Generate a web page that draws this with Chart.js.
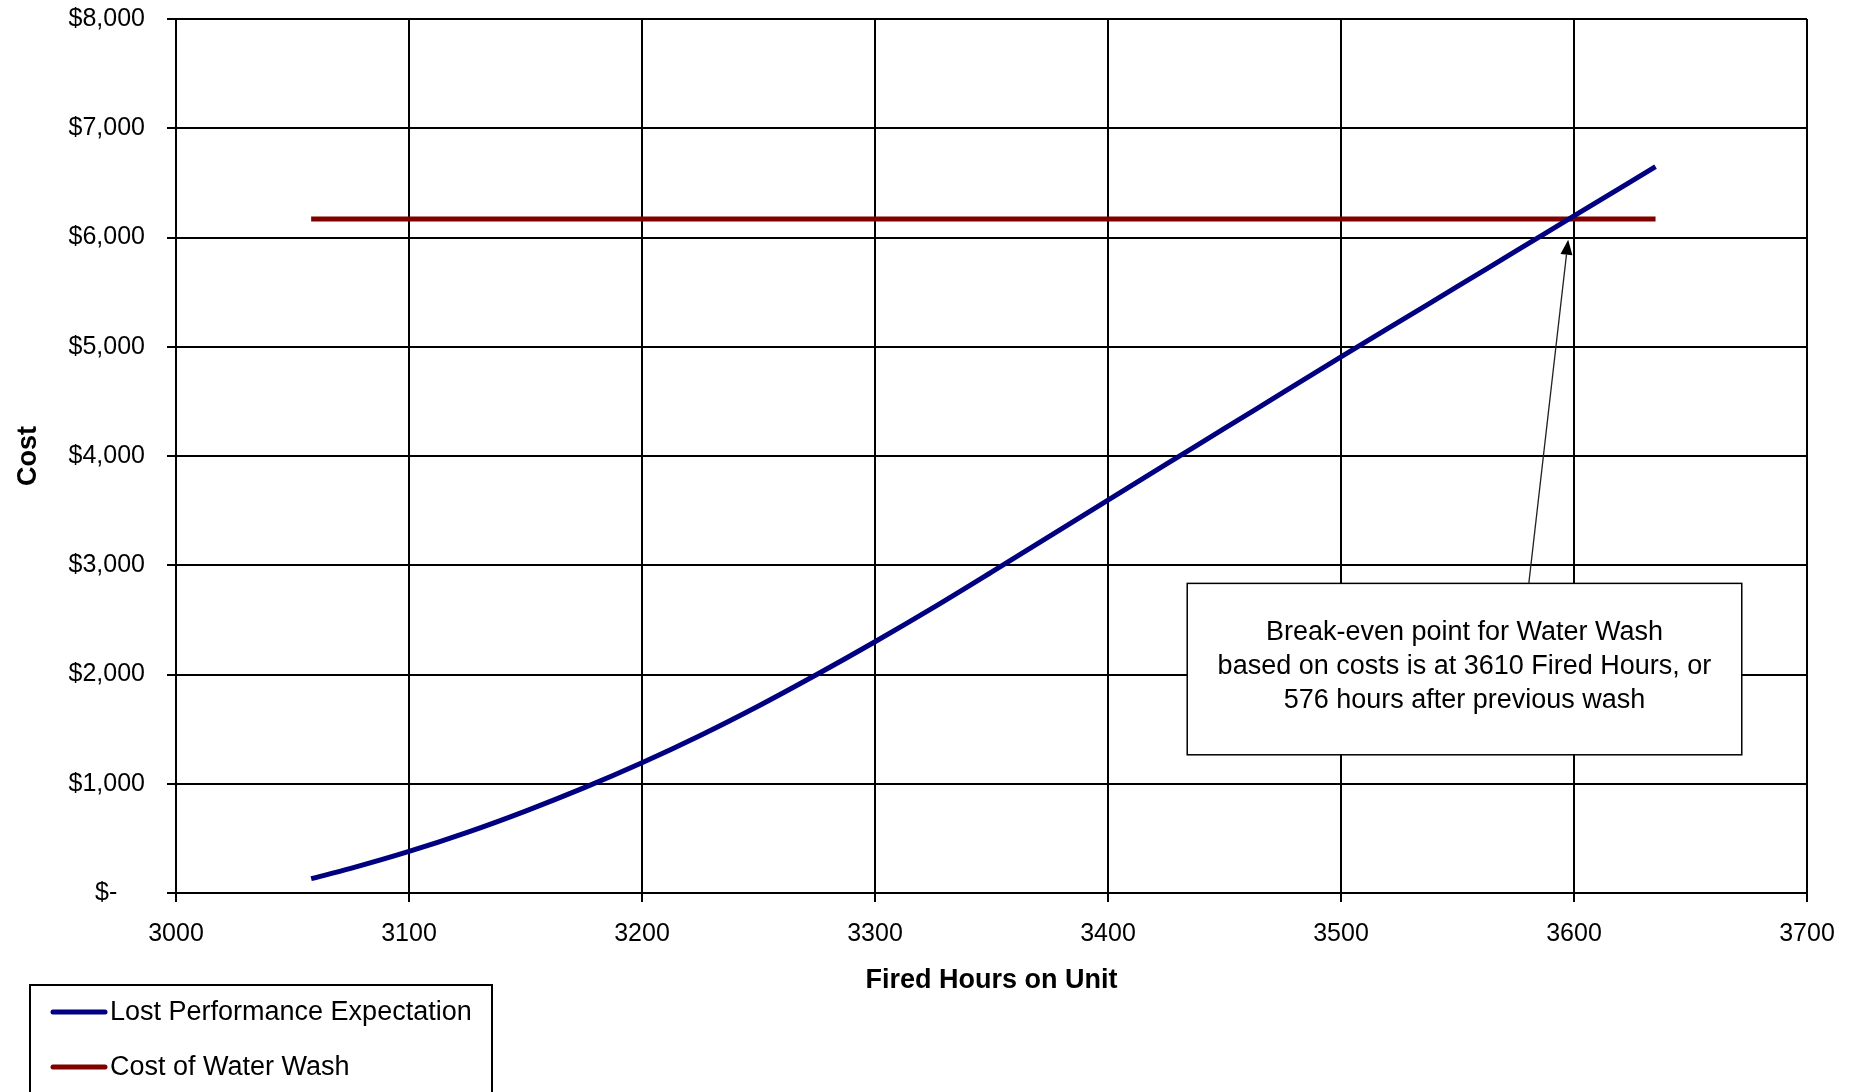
<!DOCTYPE html>
<html>
<head>
<meta charset="utf-8">
<title>Water Wash Break-even</title>
<script src="https://cdn.jsdelivr.net/npm/chart.js@4.4.1/dist/chart.umd.min.js"></script>
<style>
  html, body { margin: 0; padding: 0; background: #fff; }
  #grafico { display: block; }
</style>
</head>
<body>
<canvas id="grafico" width="1852" height="1092"></canvas>
<script>
// Datos
const firedHours = [3058, 3075, 3100, 3125, 3150, 3175, 3200, 3225, 3250, 3275, 3300, 3325,
                    3350, 3375, 3400, 3425, 3450, 3475, 3500, 3525, 3550, 3575, 3600, 3635];
const lostPerformance = [131, 225, 380, 555, 750, 962, 1192, 1442, 1712, 2000, 2300, 2612,
                         2937, 3267, 3597, 3925, 4252, 4580, 4907, 5230, 5552, 5875, 6197, 6649];
const washHours = [3058, 3635];
const washCost = [6170, 6170];

const xTicks = [3000, 3100, 3200, 3300, 3400, 3500, 3600, 3700];
const xTickLabels = ['3000', '3100', '3200', '3300', '3400', '3500', '3600', '3700'];
const yTicks = [0, 1000, 2000, 3000, 4000, 5000, 6000, 7000, 8000];
const yTickLabels = ['$-    ', '$1,000', '$2,000', '$3,000', '$4,000', '$5,000', '$6,000', '$7,000', '$8,000'];

const seriesNames = ['Lost Performance Expectation', 'Cost of Water Wash'];
const noteLines = [
    'Break-even point for Water Wash',
    'based on costs is at 3610 Fired Hours, or',
    '576 hours after previous wash'
];
const breakEven = { x: 3597.5, y: 5980 };

const FONT = '"Liberation Sans", Arial, sans-serif';
const NAVY = '#000080';
const MAROON = '#800000';

// Cuadro de texto con flecha hacia el punto de equilibrio
const notePlugin = {
    id: 'note',
    afterDatasetsDraw(chart) {
        const { ctx, scales: { x, y } } = chart;
        const left = x.getPixelForValue(3434);
        const right = x.getPixelForValue(3672);
        const top = y.getPixelForValue(2834);
        const bottom = y.getPixelForValue(1265);

        ctx.save();
        ctx.fillStyle = '#fff';
        ctx.fillRect(left, top, right - left, bottom - top);
        ctx.strokeStyle = '#000';
        ctx.lineWidth = 1.5;
        ctx.strokeRect(left, top, right - left, bottom - top);

        ctx.font = '27px ' + FONT;
        ctx.fillStyle = '#000';
        ctx.textAlign = 'center';
        ctx.textBaseline = 'middle';
        noteLines.forEach((t, i) => ctx.fillText(t, (left + right) / 2, top + 49 + i * 34));

        // flecha
        const sx = x.getPixelForValue(3580.6);
        const sy = top;
        const tx = x.getPixelForValue(breakEven.x);
        const ty = y.getPixelForValue(breakEven.y);
        const ang = Math.atan2(ty - sy, tx - sx);
        const head = 15, half = 6;
        const bx = tx - head * Math.cos(ang), by = ty - head * Math.sin(ang);
        ctx.strokeStyle = '#222';
        ctx.lineWidth = 1.3;
        ctx.beginPath();
        ctx.moveTo(sx, sy);
        ctx.lineTo(bx, by);
        ctx.stroke();
        ctx.fillStyle = '#000';
        ctx.beginPath();
        ctx.moveTo(tx, ty);
        ctx.lineTo(bx + half * Math.sin(ang), by - half * Math.cos(ang));
        ctx.lineTo(bx - half * Math.sin(ang), by + half * Math.cos(ang));
        ctx.closePath();
        ctx.fill();
        ctx.restore();
    }
};

// Leyenda en caja abajo a la izquierda
const legendBoxPlugin = {
    id: 'legendBox',
    afterDraw(chart) {
        const ctx = chart.ctx;
        ctx.save();
        ctx.strokeStyle = '#000';
        ctx.lineWidth = 2;
        ctx.strokeRect(30, 985, 462, 200);
        ctx.font = '27px ' + FONT;
        ctx.textAlign = 'left';
        ctx.textBaseline = 'middle';
        chart.data.datasets.forEach((ds, i) => {
            const yy = 1012 + i * 55;
            ctx.strokeStyle = ds.borderColor;
            ctx.lineWidth = 5;
            ctx.lineCap = 'round';
            ctx.beginPath();
            ctx.moveTo(53, yy);
            ctx.lineTo(105, yy);
            ctx.stroke();
            ctx.fillStyle = '#000';
            ctx.fillText(ds.label, 110, yy + 1);
        });
        ctx.restore();
    }
};

const ctx = document.getElementById('grafico').getContext('2d');
new Chart(ctx, {
    type: 'line',
    data: {
        datasets: [
            {
                label: seriesNames[0],
                data: firedHours.map((h, i) => ({ x: h, y: lostPerformance[i] })),
                borderColor: NAVY,
                backgroundColor: NAVY,
                borderWidth: 5,
                pointRadius: 0,
                cubicInterpolationMode: 'monotone',
                fill: false
            },
            {
                label: seriesNames[1],
                data: washHours.map((h, i) => ({ x: h, y: washCost[i] })),
                borderColor: MAROON,
                backgroundColor: MAROON,
                borderWidth: 5,
                pointRadius: 0,
                fill: false
            }
        ]
    },
    options: {
        responsive: false,
        animation: false,
        layout: { padding: { left: 0, right: 45, top: 19, bottom: 95 } },
        plugins: {
            legend: { display: false },
            tooltip: { enabled: false }
        },
        scales: {
            x: {
                type: 'linear',
                min: 3000,
                max: 3700,
                afterBuildTicks: s => { s.ticks = xTicks.map(v => ({ value: v })); },
                afterFit: s => { s.height = 104; },
                grid: { color: '#000', lineWidth: 2, tickLength: 9 },
                border: { color: '#000', width: 2 },
                ticks: {
                    font: { family: FONT, size: 25 },
                    color: '#000',
                    padding: 17,
                    maxRotation: 0,
                    callback: v => xTickLabels[xTicks.indexOf(v)]
                },
                title: {
                    display: true,
                    text: 'Fired Hours on Unit',
                    color: '#000',
                    font: { family: FONT, size: 27, weight: 'bold' },
                    padding: 0
                }
            },
            y: {
                min: 0,
                max: 8000,
                afterBuildTicks: s => { s.ticks = yTicks.map(v => ({ value: v })); },
                afterFit: s => { s.width = 176; s.paddingTop = 0; s.paddingBottom = 0; },
                grid: { color: '#000', lineWidth: 2, tickLength: 9 },
                border: { color: '#000', width: 2 },
                ticks: {
                    font: { family: FONT, size: 25 },
                    color: '#000',
                    padding: 22,
                    callback: v => yTickLabels[yTicks.indexOf(v)]
                },
                title: {
                    display: true,
                    text: 'Cost',
                    color: '#000',
                    font: { family: FONT, size: 27, weight: 'bold' },
                    padding: { top: 12, bottom: 0 }
                }
            }
        }
    },
    plugins: [notePlugin, legendBoxPlugin]
});
</script>
</body>
</html>
